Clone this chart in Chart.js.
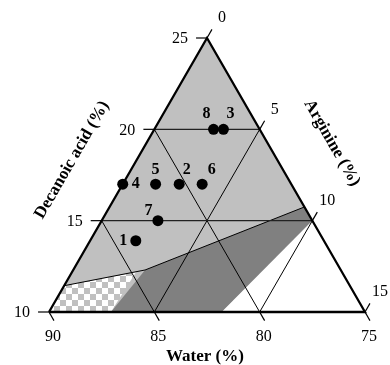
<!DOCTYPE html>
<html><head><meta charset="utf-8">
<script src="https://cdn.jsdelivr.net/npm/chart.js@4.4.1/dist/chart.umd.min.js"></script>
<style>html,body{margin:0;padding:0;background:#fff}#wrap{width:390px;height:365px;position:relative}</style>
</head><body><div id="wrap"><canvas id="c"></canvas></div>
<script>
// Ternary data: decanoic acid (%), arginine (%); water (%) = 100 - decanoic - arginine
const pointLabels    = ['1', '2', '3', '4', '5', '6', '7', '8'];
const pointDecanoic  = [13.9, 17.0, 20.0, 17.0, 17.0, 17.0, 15.0, 20.0];
const pointArginine  = [2.17, 2.68, 3.28, 0.0, 1.56, 3.77, 2.67, 2.81];

const decanoicTicks = [10, 15, 20, 25];
const arginineTicks = [0, 5, 10, 15];
const waterTicks    = [90, 85, 80, 75];

// Phase regions (vertices as decanoic / arginine)
const darkDec     = [12.30, 15.75, 15.0, 10.0, 10.0];
const darkArg     = [3.41, 9.25, 10.0, 8.2, 2.94];
const whiteDec    = [15.0, 10.0, 10.0];
const whiteArg    = [10.0, 15.0, 8.2];
const checkDec    = [10.0, 11.44, 12.17, 10.0];
const checkArg    = [0.0, 0.0, 3.04, 2.94];
const boundaryDec = [11.44, 12.30, 15.75];
const boundaryArg = [0.0, 3.41, 9.25];

// ---- helpers ----
const S3 = Math.sqrt(3) / 2;
function tern(dec, arg) { const d = (dec - 10) / 15, a = arg / 15; return { x: a + d / 2, y: d * S3 }; }
function pts(decs, args, close) {
  const out = decs.map((d, i) => tern(d, args[i]));
  if (close) out.push(out[0]);
  return out;
}
function makeChecker(size) {
  const c = document.createElement('canvas'); c.width = c.height = size * 2;
  const g = c.getContext('2d');
  g.fillStyle = '#ffffff'; g.fillRect(0, 0, size * 2, size * 2);
  g.fillStyle = '#c0c0c0'; g.fillRect(0, 0, size, size); g.fillRect(size, size, size, size);
  return g.createPattern(c, 'repeat');
}
function poly(data, color, order) {
  return { data, fill: 'shape', backgroundColor: color, borderWidth: 0, borderColor: 'rgba(0,0,0,0)',
           pointRadius: 0, tension: 0, order, clip: false };
}
function seg(data, width, order, color) {
  return { data, fill: false, borderColor: color || '#000', borderWidth: width, pointRadius: 0,
           tension: 0, order, clip: false };
}

const datasets = [];
// bottom layers
datasets.push(poly(pts([10, 10, 25], [0, 15, 0], true), '#c0c0c0', 20));
datasets.push(poly(pts(darkDec, darkArg, true), '#808080', 19));
datasets.push(poly(pts(whiteDec, whiteArg, true), '#ffffff', 18));
datasets.push(poly(pts(checkDec, checkArg, true), makeChecker(6), 17));
datasets.push(seg(pts(boundaryDec, boundaryArg, false), 1, 16));
// grid lines
decanoicTicks.slice(1, -1).forEach(v => datasets.push(seg([tern(v, 0), tern(v, 25 - v)], 1.2, 15, '#222')));
arginineTicks.slice(1, -1).forEach(v => datasets.push(seg([tern(10, v), tern(25 - v, v)], 1, 15)));
waterTicks.slice(1, -1).forEach(v => datasets.push(seg([tern(100 - v, 0), tern(10, 90 - v)], 1, 15)));
// ticks
const TL = 0.52, TD = 0.47;
decanoicTicks.forEach(v => datasets.push(seg([tern(v, 0), tern(v, -TL)], 1.2, 14)));
arginineTicks.forEach(v => datasets.push(seg([tern(25 - v, v), tern(25 - v + TD, v)], 1.2, 14)));
waterTicks.forEach(v => datasets.push(seg([tern(10, 90 - v), tern(10 - TD, 90 - v + TD)], 1.2, 14)));
// triangle border
datasets.push(seg(pts([10, 10, 25], [0, 15, 0], true), 2.3, 13));
// experimental points
const pointIndex = datasets.length;
datasets.push({ data: pts(pointDecanoic, pointArginine, false), showLine: false, pointRadius: 5.5,
  pointBackgroundColor: '#000', pointBorderColor: '#000', pointBorderWidth: 0, order: 1, clip: false });

// label offsets (px) for point numbers
const labelOffsets = [[-12.5, 0], [7.5, -14], [7, -15], [13, 0], [0, -14], [9.5, -14], [-9.5, -10], [-7, -15]];

const SERIF = '"Liberation Serif", "Times New Roman", serif';
const textPlugin = {
  id: 'ternaryText',
  afterDatasetsDraw(chart) {
    const ctx = chart.ctx, xs = chart.scales.x, ys = chart.scales.y;
    const px = (dec, arg) => { const p = tern(dec, arg); return [xs.getPixelForValue(p.x), ys.getPixelForValue(p.y)]; };
    ctx.save();
    ctx.fillStyle = '#000';
    ctx.font = '16px ' + SERIF;
    ctx.textBaseline = 'middle';
    ctx.textAlign = 'right';
    decanoicTicks.forEach(v => { const [x, y] = px(v, 0); ctx.fillText(String(v), x - 19, y + 1); });
    ctx.textAlign = 'center';
    arginineTicks.forEach(v => { const [x, y] = px(25 - v, v); ctx.fillText(String(v), x + 15, y - 20); });
    waterTicks.forEach(v => { const [x, y] = px(10, 90 - v); ctx.fillText(String(v), x + 4, y + 25); });

    ctx.font = 'bold 16px ' + SERIF;
    const meta = chart.getDatasetMeta(pointIndex);
    meta.data.forEach((el, i) => {
      const o = labelOffsets[i];
      ctx.fillText(pointLabels[i], el.x + o[0], el.y + o[1]);
    });

    ctx.font = 'bold 17px ' + SERIF;
    let [bx, by] = px(10, 7.5);
    ctx.fillText('Water (%)', bx - 2, by + 45);
    let [lx, ly] = px(17.5, 0);
    ctx.save(); ctx.translate(lx - 56, ly - 15); ctx.rotate(-Math.PI / 3);
    ctx.fillText('Decanoic acid (%)', 0, 0); ctx.restore();
    let [rx, ry] = px(17.5, 7.5);
    ctx.save(); ctx.translate(rx + 46, ry - 32); ctx.rotate(Math.PI / 3);
    ctx.fillText('Arginine (%)', 0, 0); ctx.restore();
    ctx.restore();
  }
};

new Chart(document.getElementById('c'), {
  type: 'line',
  data: { datasets },
  options: {
    responsive: true, maintainAspectRatio: false, animation: false,
    layout: { padding: { left: 49, right: 25, top: 38, bottom: 53 } },
    scales: {
      x: { type: 'linear', min: 0, max: 1, display: false },
      y: { type: 'linear', min: 0, max: S3, display: false }
    },
    plugins: { legend: { display: false }, tooltip: { enabled: false } },
    events: []
  },
  plugins: [textPlugin]
});
</script>
</body></html>
